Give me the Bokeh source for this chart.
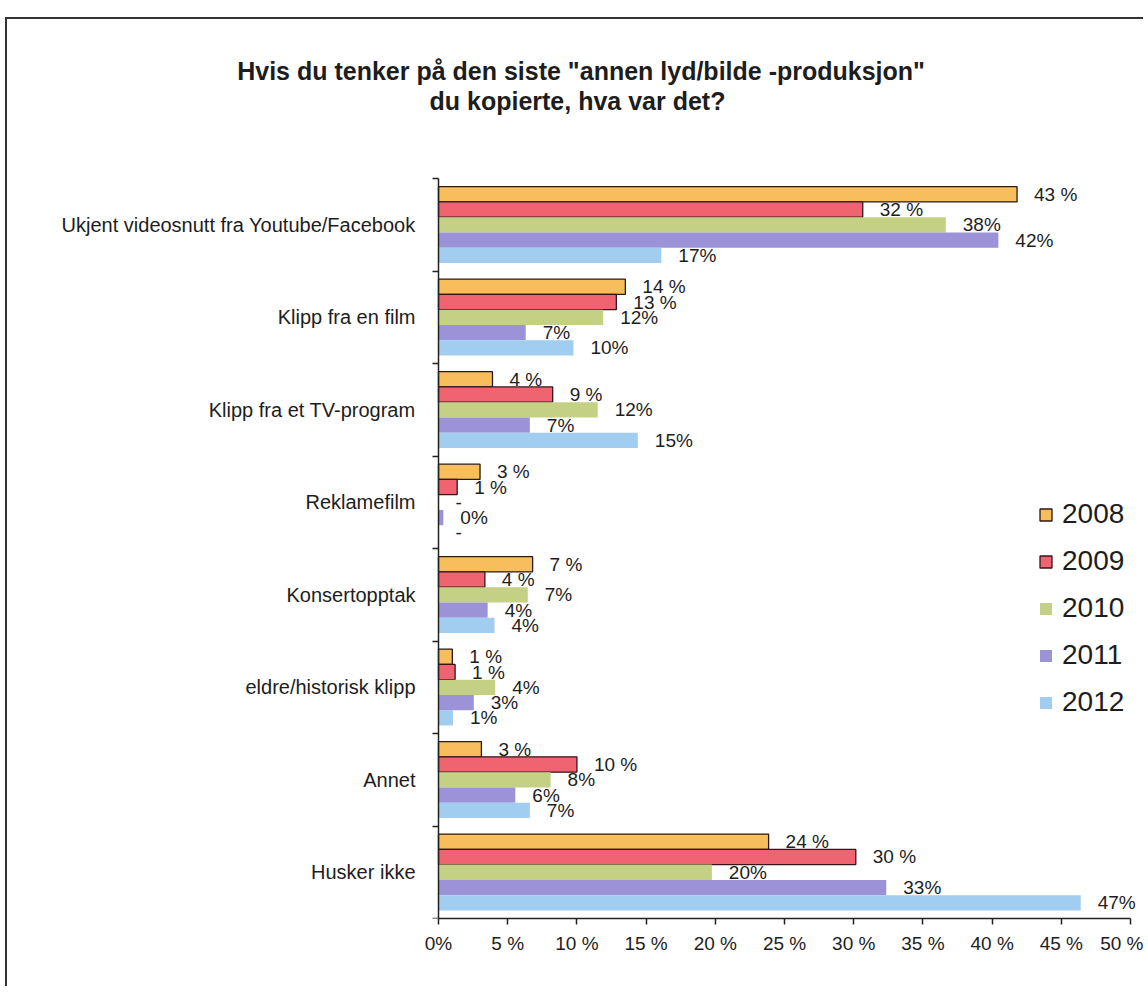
from bokeh.plotting import figure
from bokeh.models import (ColumnDataSource, Range1d, FixedTicker, LabelSet,
                          Legend, LegendItem)
from bokeh.core.properties import value
from bokeh.embed import file_html
from bokeh.resources import INLINE

categories = ["Ukjent videosnutt fra Youtube/Facebook", "Klipp fra en film",
              "Klipp fra et TV-program", "Reklamefilm", "Konsertopptak",
              "eldre/historisk klipp", "Annet", "Husker ikke"]
years = ["2008", "2009", "2010", "2011", "2012"]

v2008 = [41.8, 13.5, 3.9, 3.0, 6.8, 1.0, 3.1, 23.85]
v2009 = [30.65, 12.85, 8.25, 1.35, 3.35, 1.2, 10.0, 30.15]
v2010 = [36.65, 11.9, 11.5, 0.0, 6.45, 4.1, 8.1, 19.75]
v2011 = [40.45, 6.3, 6.6, 0.35, 3.55, 2.55, 5.55, 32.35]
v2012 = [16.1, 9.75, 14.4, 0.0, 4.05, 1.05, 6.6, 46.4]

l2008 = ["43 %", "14 %", "4 %", "3 %", "7 %", "1 %", "3 %", "24 %"]
l2009 = ["32 %", "13 %", "9 %", "1 %", "4 %", "1 %", "10 %", "30 %"]
l2010 = ["38%", "12%", "12%", "-", "7%", "4%", "8%", "20%"]
l2011 = ["42%", "7%", "7%", "0%", "4%", "3%", "6%", "33%"]
l2012 = ["17%", "10%", "15%", "-", "4%", "1%", "7%", "47%"]

x_ticks = [0, 5, 10, 15, 20, 25, 30, 35, 40, 45, 50]
x_tick_labels = ["0%", "5 %", "10 %", "15 %", "20 %", "25 %", "30 %", "35 %",
                 "40 %", "45 %", "50 %"]

title_lines = ['Hvis du tenker på den siste "annen lyd/bilde -produksjon"',
               'du kopierte, hva var det?']

values = [v2008, v2009, v2010, v2011, v2012]
labels = [l2008, l2009, l2010, l2011, l2012]
fills = ["#F9BE5C", "#EF6470", "#C4D184", "#9C92D8", "#A0CDF0"]
outlines = ["#2a1a10", "#3a1418", None, None, None]

FONT = "Liberation Sans"
TXT = "#1d1d1d"

n = len(categories)
centers = [i + 0.5 for i in range(n)]
bar_h = 0.165

# The plot frame covers the whole canvas above the x axis so that the
# centred title (left of the value axis) is not clipped.
p = figure(width=1138, height=969, output_backend="svg", toolbar_location=None,
           x_range=Range1d(-31.14, 51.08), y_range=Range1d(n, -1.72),
           min_border_left=0, min_border_right=0, min_border_top=0,
           min_border_bottom=70)
p.styles = {"margin-top": "17px", "margin-left": "5px",
            "border-top": "2px solid #333", "border-left": "2px solid #333"}
p.outline_line_color = None
p.xgrid.grid_line_color = None
p.ygrid.grid_line_color = None

# title
p.text(x=[10.3, 10.04], y=[-1.168, -0.843], text=title_lines,
       text_font=value(FONT), text_font_style="bold", text_font_size="25px",
       text_align="center", text_baseline="middle", text_color=TXT)

items = []
for j, (yr, vals, labs) in enumerate(zip(years, values, labels)):
    ys = [c + (j - 2) * bar_h for c in centers]
    src = ColumnDataSource(dict(y=ys, v=vals, lab=labs))
    r = p.hbar(y="y", right="v", left=0, height=bar_h, source=src,
               fill_color=fills[j],
               line_color=outlines[j] if outlines[j] else None,
               line_width=1.3)
    items.append(LegendItem(label=yr, renderers=[r]))
    ls = LabelSet(x="v", y="y", text="lab", source=src, x_offset=17,
                  text_baseline="middle", text_align="left",
                  text_font=value(FONT), text_font_size="19px", text_color=TXT)
    p.add_layout(ls)

xa = p.xaxis[0]
xa.ticker = FixedTicker(ticks=x_ticks)
xa.major_label_overrides = {tk: s for tk, s in zip(x_ticks, x_tick_labels)}
xa.bounds = (0, 50)
xa.axis_line_color = "#222222"
xa.axis_line_width = 1.5
xa.major_tick_line_color = "#222222"
xa.major_tick_line_width = 1.5
xa.major_tick_in = 0
xa.major_tick_out = 6
xa.minor_tick_line_color = None
xa.major_label_text_font = FONT
xa.major_label_text_font_size = "19px"
xa.major_label_text_color = TXT
xa.major_label_standoff = 8

ya = p.yaxis[0]
ya.fixed_location = 0
ya.bounds = (0, n)
ya.ticker = FixedTicker(ticks=centers, minor_ticks=list(range(n + 1)))
ya.major_label_overrides = {c: name for c, name in zip(centers, categories)}
ya.axis_line_color = "#222222"
ya.axis_line_width = 1.5
ya.major_tick_line_color = None
ya.major_tick_in = 0
ya.major_tick_out = 0
ya.minor_tick_line_color = "#222222"
ya.minor_tick_line_width = 1.5
ya.minor_tick_in = 0
ya.minor_tick_out = 6
ya.major_label_text_font = FONT
ya.major_label_text_font_size = "20px"
ya.major_label_text_color = TXT
ya.major_label_standoff = 17

legend = Legend(items=items, location=(1031, 200), orientation="vertical",
                label_text_font=FONT, label_text_font_size="28px",
                label_text_color=TXT, glyph_width=15, glyph_height=15,
                label_height=30, spacing=15, padding=0, margin=0,
                label_standoff=9, border_line_color=None,
                background_fill_alpha=0)
p.add_layout(legend)

open("out.html", "w").write(file_html(p, INLINE))
